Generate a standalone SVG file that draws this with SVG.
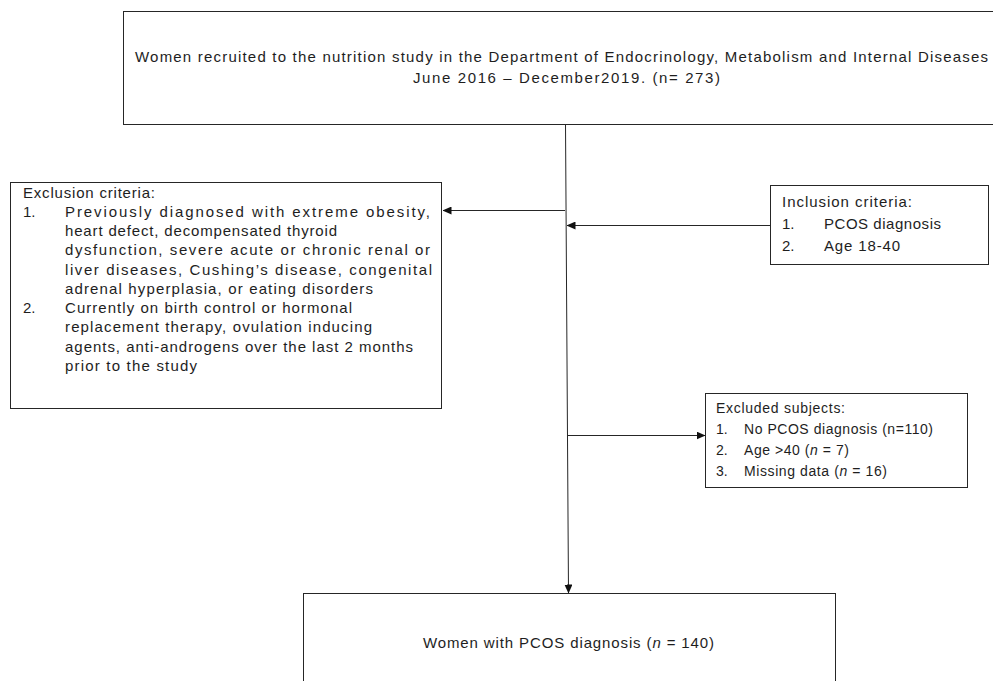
<svg xmlns="http://www.w3.org/2000/svg" width="993" height="681" viewBox="0 0 993 681">
<defs>
<style>
.box{fill:#fff;stroke:#262626;stroke-width:1}
.t{font-family:"Liberation Sans",Arial,sans-serif;font-size:15px;fill:#1e1e1e}
.s{font-size:14px}
.i{font-style:italic}
.ln{stroke:#262626;stroke-width:1;fill:none}
</style>
<marker id="ah" markerWidth="9" markerHeight="8" refX="8.5" refY="4" orient="auto" markerUnits="userSpaceOnUse">
<path d="M0,0 L9,4 L0,8 z" fill="#111"/>
</marker>
</defs>
<rect width="993" height="681" fill="#fff"/>
<g id="connectors">
<line class="ln" x1="565.5" y1="124" x2="568.5" y2="593" marker-end="url(#ah)"/>
<line class="ln" x1="565" y1="210.5" x2="443" y2="210.5" marker-end="url(#ah)"/>
<line class="ln" x1="770" y1="225.5" x2="567" y2="225.5" marker-end="url(#ah)"/>
<line class="ln" x1="567" y1="435.5" x2="705" y2="435.5" marker-end="url(#ah)"/>
</g>
<g id="recruited">
<rect class="box" x="123.5" y="11.5" width="900" height="113"/>
<text class="t" x="135" y="62" textLength="853">Women  recruited to the nutrition study in the Department of Endocrinology, Metabolism and Internal Diseases</text>
<text class="t" x="413" y="83" textLength="307">June 2016 – December2019.  (n= 273)</text>
</g>
<g id="exclusion">
<rect class="box" x="10.5" y="182.5" width="431" height="226"/>
<text class="t" x="23" y="197.5" textLength="132">Exclusion criteria:</text>
<text class="t" x="23" y="216.8">1.</text>
<text class="t" x="65" y="216.8" textLength="365">Previously diagnosed  with  extreme obesity,</text>
<text class="t" x="65" y="236" textLength="272">heart defect, decompensated thyroid</text>
<text class="t" x="65" y="255.3" textLength="365">dysfunction, severe acute or chronic renal or</text>
<text class="t" x="65" y="274.5" textLength="367">liver diseases, Cushing’s disease,  congenital</text>
<text class="t" x="65" y="293.8" textLength="308">adrenal hyperplasia, or eating disorders</text>
<text class="t" x="23" y="313">2.</text>
<text class="t" x="65" y="313" textLength="287">Currently on birth control or hormonal</text>
<text class="t" x="65" y="332.3" textLength="307">replacement therapy, ovulation inducing</text>
<text class="t" x="65" y="351.5" textLength="348">agents, anti-androgens over the last 2 months</text>
<text class="t" x="65" y="370.8" textLength="132">prior to the study</text>
</g>
<g id="inclusion">
<rect class="box" x="770.5" y="185.5" width="218" height="79"/>
<text class="t" x="782" y="207" textLength="130">Inclusion criteria:</text>
<text class="t" x="782" y="229">1.</text>
<text class="t" x="824" y="229" textLength="117">PCOS diagnosis</text>
<text class="t" x="782" y="251">2.</text>
<text class="t" x="824" y="251" textLength="76">Age 18-40</text>
</g>
<g id="excluded">
<rect class="box" x="705.5" y="393.5" width="262" height="94"/>
<text class="t s" x="716" y="413" textLength="129">Excluded subjects:</text>
<text class="t s" x="716" y="434">1.</text>
<text class="t s" x="744" y="434" textLength="189">No PCOS diagnosis (n=110)</text>
<text class="t s" x="716" y="455">2.</text>
<text class="t s" x="744" y="455" textLength="105">Age &gt;40  (<tspan class="i">n</tspan> = 7)</text>
<text class="t s" x="716" y="476">3.</text>
<text class="t s" x="744" y="476" textLength="143">Missing data (<tspan class="i">n</tspan> = 16)</text>
</g>
<g id="pcos">
<rect class="box" x="303.5" y="593.5" width="532" height="100"/>
<text class="t" x="423" y="648" textLength="291">Women  with PCOS diagnosis (<tspan class="i">n</tspan> = 140)</text>
</g>
</svg>
